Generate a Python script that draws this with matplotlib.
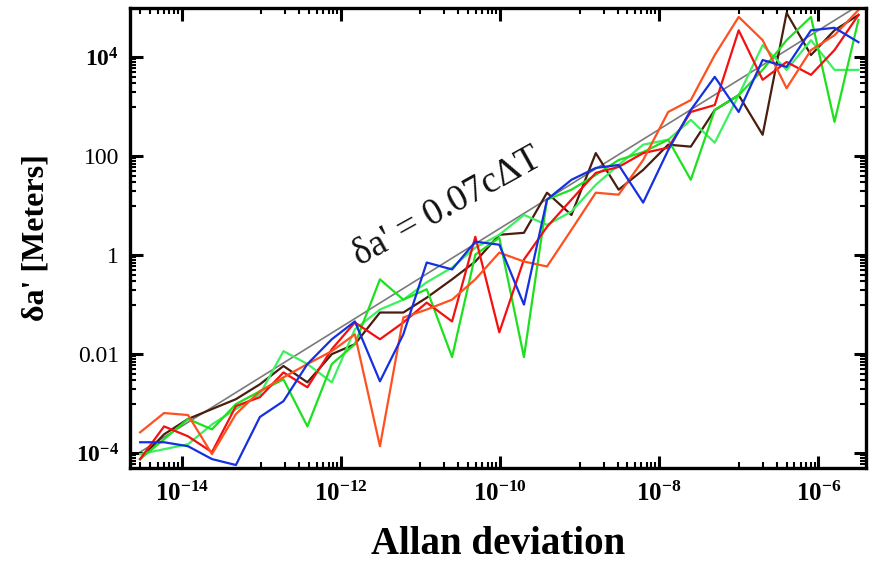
import numpy as np
import matplotlib
matplotlib.use('Agg')
import matplotlib.pyplot as plt
from matplotlib.ticker import FixedLocator, FixedFormatter, NullFormatter

plt.rcParams['font.family'] = ['Liberation Serif', 'DejaVu Serif']
plt.rcParams['mathtext.fontset'] = 'custom'
plt.rcParams['mathtext.rm'] = 'Liberation Serif:bold'
plt.rcParams['mathtext.it'] = 'Liberation Serif:bold'
plt.rcParams['mathtext.bf'] = 'Liberation Serif:bold'

# Allan deviation sample points (x axis)
allan = [3e-15, 6e-15, 1.2e-14, 2.4e-14, 4.8e-14, 9.6e-14, 1.9e-13, 3.8e-13,
         7.7e-13, 1.5e-12, 3.1e-12, 6.1e-12, 1.2e-11, 2.5e-11, 4.9e-11, 9.8e-11,
         2.0e-10, 3.9e-10, 7.9e-10, 1.6e-9, 3.1e-9, 6.3e-9, 1.3e-8, 2.5e-8,
         5.0e-8, 1.0e-7, 2.0e-7, 4.0e-7, 8.1e-7, 1.6e-6, 3.2e-6]

# log10 of delta a' [m] for each run
log_red = [-4.12, -3.46, -3.66, -3.98, -3.05, -2.87, -2.37, -2.67, -1.90, -1.36, -1.70,
           -1.36, -0.96, -1.34, 0.37, -1.56, -0.09, 0.57, 1.12, 1.66, 1.78, 2.06, 2.17,
           2.89, 3.03, 4.54, 3.54, 3.90, 3.64, 4.14, 4.85]
log_orange = [-3.58, -3.19, -3.23, -4.02, -3.21, -2.75, -2.47, -2.20, -1.94, -1.60, -3.86,
              -1.26, -1.10, -0.90, -0.49, 0.05, -0.13, -0.23, 0.51, 1.26, 1.22, 1.92, 2.89,
              3.13, 4.04, 4.81, 4.34, 3.37, 4.14, 4.44, 4.95]
log_blue = [-3.78, -3.78, -3.86, -4.12, -4.24, -3.27, -2.95, -2.20, -1.70, -1.34, -2.55,
            -1.60, -0.15, -0.29, 0.27, 0.21, -1.00, 1.12, 1.52, 1.76, 1.82, 1.06, 2.12,
            2.93, 3.60, 2.89, 3.94, 3.80, 4.54, 4.59, 4.30]
log_green = [-4.12, -3.72, -3.31, -3.52, -3.01, -2.75, -2.51, -3.46, -2.20, -1.80, -0.49,
             -0.90, -0.69, -2.06, 0.01, 0.35, -2.06, 1.12, 1.32, 1.62, 1.92, 2.08, 2.33,
             1.52, 2.93, 3.23, 3.74, 4.34, 4.81, 2.69, 4.75]
log_green2 = [-4.02, -3.92, -3.82, -3.42, -3.11, -2.81, -1.94, -2.20, -2.57, -1.50, -1.10,
              -0.90, -0.55, -0.25, 0.15, 0.41, 0.81, 0.61, 0.88, 1.42, 1.82, 2.23, 2.33,
              2.73, 2.27, 3.23, 4.24, 3.74, 4.34, 3.74, 3.74]
log_brown = [-4.12, -3.62, -3.31, -3.11, -2.91, -2.61, -2.24, -2.57, -2.00, -1.80, -1.16,
             -1.16, -0.86, -0.49, -0.13, 0.41, 0.45, 1.26, 0.81, 2.06, 1.32, 1.72, 2.23,
             2.19, 2.93, 3.23, 2.43, 4.89, 4.04, 4.54, 4.85]

# reference line  delta a' = 0.07 c dT
ref_x = [3e-15, 3.2e-6]
ref_y = [1.05e-4, 1.1e5]

xticks = [1e-14, 1e-12, 1e-10, 1e-8, 1e-6]
xlabels = [r'$10^{-14}$', r'$10^{-12}$', r'$10^{-10}$', r'$10^{-8}$', r'$10^{-6}$']
yticks = [1e-4, 1e-2, 1, 100, 1e4]
ylabels = [r'$10^{-4}$', '0.01', '1', '100', r'$10^{4}$']

fig = plt.figure(figsize=(8.73, 5.64), dpi=100)
ax = fig.add_axes([130/873, 96/564, 736/873, 460/564])

ax.plot(ref_x, ref_y, color='#7a7a7a', lw=1.2, zorder=1)
series = [(log_brown, '#4a1e0e'), (log_green2, '#3cf060'), (log_green, '#1ee01e'),
          (log_red, '#f51010'), (log_orange, '#ff5020'), (log_blue, '#1530e0')]
for vals, col in series:
    ax.plot(allan, 10 ** np.array(vals), color=col, lw=1.6, zorder=2)

ax.set_xscale('log')
ax.set_yscale('log')
ax.set_xlim(10 ** -14.65, 10 ** -5.4)
ax.set_ylim(10 ** -4.3, 10 ** 4.99)

ax.xaxis.set_major_locator(FixedLocator(xticks))
ax.xaxis.set_major_formatter(FixedFormatter(xlabels))
ax.yaxis.set_major_locator(FixedLocator(yticks))
ax.yaxis.set_major_formatter(FixedFormatter(ylabels))
xminor = [k * 10.0 ** e for e in (-15, -13, -11, -9, -7) for k in range(1, 10)]
yminor = [k * 10.0 ** e for e in (-5, -3, -1, 1, 3) for k in range(1, 10)]
ax.xaxis.set_minor_locator(FixedLocator(xminor))
ax.yaxis.set_minor_locator(FixedLocator(yminor))
ax.xaxis.set_minor_formatter(NullFormatter())
ax.yaxis.set_minor_formatter(NullFormatter())

ax.tick_params(which='both', direction='in', top=True, right=True)
ax.tick_params(which='major', length=9, width=2.2, pad=8)
ax.tick_params(axis='x', which='major', labelsize=18, pad=10)
ax.tick_params(axis='y', which='major', labelsize=17)
ax.tick_params(which='minor', length=4.5, width=1.5)
for sp in ax.spines.values():
    sp.set_linewidth(2.4)

ax.set_xlabel('Allan deviation', fontsize=28, fontweight='bold', labelpad=14)
ax.set_ylabel("δa' [Meters]", fontsize=23, fontweight='bold', labelpad=18)

ax.text(447, 357, "δa' = 0.07cΔT", transform=None, fontsize=27, rotation=29,
        ha='center', va='center', color='#111111')

fig.savefig('out.png', dpi=100)
